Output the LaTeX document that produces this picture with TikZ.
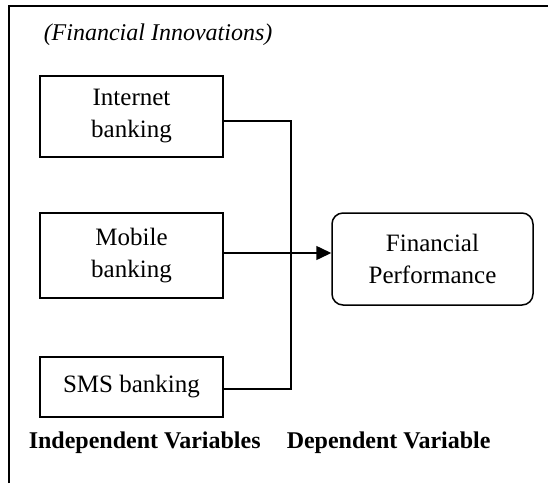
\documentclass[tikz,border=0pt]{standalone}
\usepackage{fontspec}
\setmainfont{Liberation Serif}
\usetikzlibrary{arrows.meta}
\begin{document}
\begin{tikzpicture}[x=1pt,y=-1pt,
  line width=1.5pt,
  every node/.style={font=\fontsize{25}{32}\selectfont, inner sep=0pt},
  varbox/.style={draw, rectangle, minimum width=183pt, align=center},
  resultbox/.style={draw, rectangle, rounded corners=11pt, minimum width=201pt, minimum height=92pt, align=center},
  heading/.style={anchor=base west, font=\fontsize{24}{31}\selectfont\bfseries},
  link/.style={line width=1.5pt},
  arrowlink/.style={line width=1.5pt, -{Triangle[length=15pt,width=14pt]}}]
\useasboundingbox (0,0) rectangle (548,483);

% open frame: top and left edges only
\draw (9,483) -- (9,6) -- (548,6);

\node[anchor=base west, font=\fontsize{24}{31}\selectfont\itshape] (title) at (43,40) {(Financial Innovations)};

% independent variables
\node[varbox, minimum height=81pt] (inet) at (131.5,116.5) {Internet\\banking};
\node[varbox, minimum height=85pt] (mob) at (131.5,255.5) {Mobile\\banking};
\node[varbox, minimum height=60pt] (sms) at (131.5,387) {SMS banking};

% dependent variable
\node[resultbox] (perf) at (432.5,259) {Financial\\Performance};

% connectors
\coordinate (jtop) at (291,121);
\coordinate (jbot) at (291,389);
\draw[link] ([yshift=-4.5pt]inet.east) -- (jtop) -- (jbot) -- ([yshift=-2pt]sms.east);
\draw[arrowlink] ([yshift=2.5pt]mob.east) -- ([yshift=6pt]perf.west);

% column headings
\node[heading] (indep) at (28,448) {Independent Variables};
\node[heading] (dep) at (286,448) {Dependent Variable};
\end{tikzpicture}
\end{document}
